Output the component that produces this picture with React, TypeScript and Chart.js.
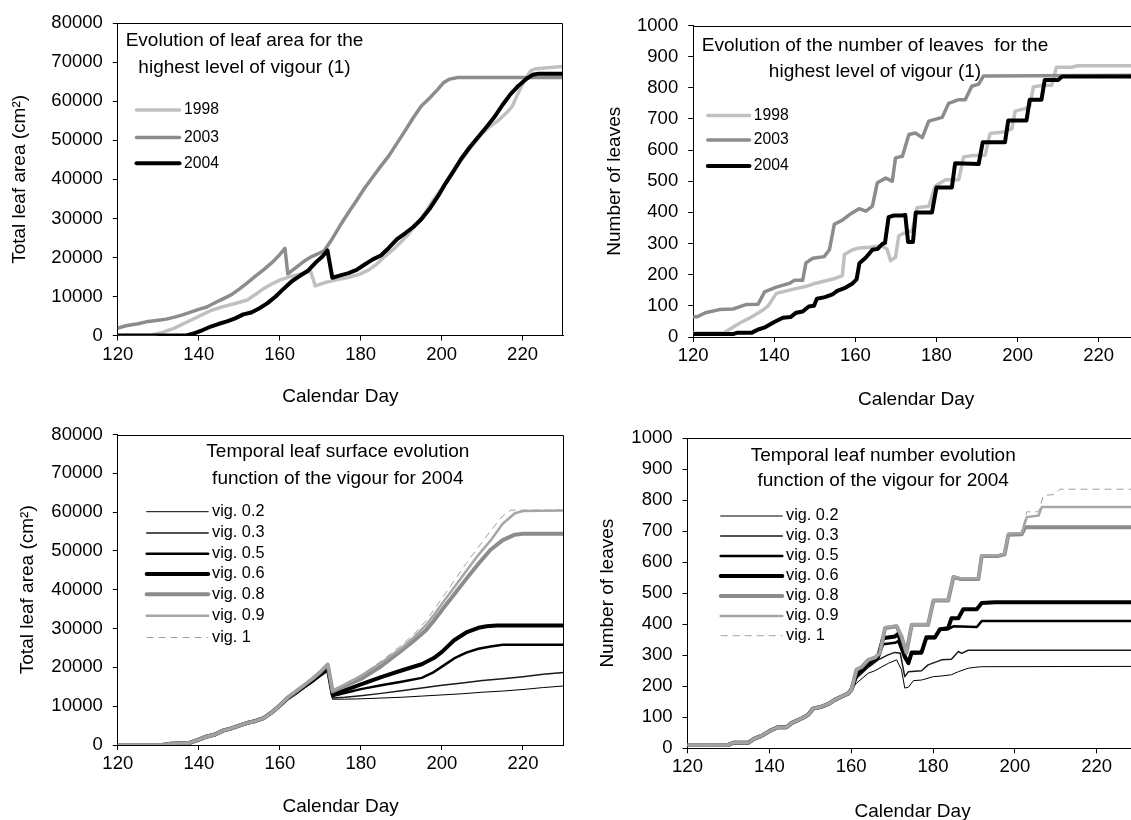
import React, { useEffect, useRef } from 'react';
import { Chart, registerables } from 'chart.js';

Chart.register(...registerables);

const FONT = "'Liberation Sans', Arial, Helvetica, sans-serif";
Chart.defaults.font.family = FONT;
Chart.defaults.color = '#000';

type Pt = [number, number];

// ---------------- data ----------------
const dayTicks = [120, 140, 160, 180, 200, 220];
const areaTicks = [0, 10000, 20000, 30000, 40000, 50000, 60000, 70000, 80000];
const leafTicks = [0, 100, 200, 300, 400, 500, 600, 700, 800, 900, 1000];

const yearLabels = ['1998', '2003', '2004'];
const vigourLabels = ['vig. 0.2', 'vig. 0.3', 'vig. 0.5', 'vig. 0.6', 'vig. 0.8', 'vig. 0.9', 'vig. 1'];

// Panel 1: total leaf area, highest vigour
const leafArea1998: Pt[] = [[120,0],[128,0],[131,800],[134,1900],[137,3400],[140,4900],[143,6400],[146,7400],[149,8200],[152,9100],[154,10500],[156,12000],[158,13200],[160,14200],[163,15200],[165,15700],[167.6,16500],[168.8,12700],[171,13500],[173,14000],[175,14500],[177,14900],[180,15800],[182,16800],[184,18300],[186,20300],[188,22000],[190,24000],[192,26200],[194,28800],[196,31600],[198,34800],[200,37600],[202,40800],[204,43800],[206,46500],[208,49200],[210,51700],[212,53600],[214,55100],[216,57000],[217.5,58800],[219,62300],[220.5,65500],[222,67800],[223,68300],[226,68600],[230,68900]];
const leafArea2003: Pt[] = [[120,1900],[122,2500],[125,3000],[127,3500],[130,3900],[132,4200],[134,4700],[136,5300],[138,6000],[140,6700],[142,7300],[144,8400],[146,9400],[148,10400],[150,11900],[152,13500],[154,15200],[156,16800],[158,18600],[160,20700],[161.3,22300],[162,15800],[164,17400],[166,19000],[168,20300],[170,21200],[171,21700],[173,24800],[175,28300],[177,31500],[179,34600],[181,37800],[183,40600],[185,43400],[187,46100],[189,49300],[191,52500],[193,55800],[195,58800],[197,60800],[199,63000],[200.5,64800],[202,65700],[204,66100],[230,66100]];
const leafArea2004: Pt[] = [[120,0],[137,0],[139,600],[141,1400],[143,2300],[145,3000],[147,3600],[149,4400],[151,5400],[153,5900],[155,7000],[157,8300],[159,10000],[161,12000],[163,13900],[165,15300],[167,16600],[169,18800],[170.5,20200],[171.8,21800],[173,14800],[175,15400],[177,16000],[179,16800],[181,18200],[183,19500],[185,20500],[187,22500],[189,24700],[191,26200],[193,27800],[195,29800],[197,32400],[199,35500],[201,39000],[203,42200],[205,45500],[207,48300],[209,50800],[211,53300],[213,55900],[215,59000],[217,61800],[219,64000],[221,65800],[222.5,66800],[224,67100],[230,67100]];

// Panel 2: number of leaves, highest vigour
const leaves1998: Pt[] = [[120,13],[127.5,13],[129,25],[131.5,45],[133.5,58],[135.5,73],[137,85],[138.5,100],[140.5,140],[143,148],[145.5,156],[148,163],[149.5,170],[152.5,180],[155,188],[156.8,197],[157.3,265],[159.3,280],[161,286],[163.5,288],[166.5,293],[167.8,282],[168.7,245],[169.9,256],[170.7,325],[172.4,336],[174,340],[175.2,415],[178.1,420],[179.7,485],[182.2,505],[185.5,505],[186.7,578],[189.1,583],[192,583],[193.2,653],[196.5,658],[198.6,668],[199.4,725],[201.8,733],[203,740],[203.9,803],[206.3,808],[208.4,808],[209.6,866],[213.3,866],[214.9,871],[230,871]];
const leaves2003: Pt[] = [[120,65],[121,65],[123,78],[126.5,88],[129.8,90],[131,95],[133,104],[136,105],[137.6,145],[140.5,160],[143.7,172],[145,182],[147,182],[147.8,238],[149.5,253],[152.3,258],[153.6,280],[154.8,362],[156.8,375],[158.8,395],[160.9,412],[162.6,404],[164.2,420],[165.4,495],[167.5,510],[169.1,500],[169.9,575],[171.6,580],[173.2,650],[174.8,655],[176.5,640],[178.1,693],[181.4,705],[183,750],[185.5,762],[187.1,762],[188.7,805],[190.4,812],[191.6,838],[230,840]];
const leaves2004: Pt[] = [[120,10],[130,10],[131,14],[134.5,14],[136,24],[137.5,30],[140,48],[142.1,62],[144,64],[145.4,78],[147,82],[148.5,98],[149.8,100],[150.5,123],[152.5,128],[154.5,138],[155.5,148],[157.5,158],[159.3,172],[160.3,185],[161,237],[162.6,255],[164.2,280],[165.5,283],[166.6,298],[167.3,302],[168.2,385],[169.5,390],[171.5,390],[172.3,392],[173,305],[174.2,305],[174.9,400],[178.9,400],[180,480],[183.8,480],[184.6,558],[190.4,555],[191.4,625],[196.9,625],[197.7,695],[202.2,695],[203,762],[205.9,762],[206.7,825],[210,825],[211,836],[230,836]];

// Panel 3: total leaf area by vigour, 2004 (shared early part, then each series)
const areaVigCommon: Pt[] = [[120,0],[131,0],[133,350],[137.5,500],[139.5,1200],[142,2200],[144,2700],[146,3700],[148,4300],[150,5000],[152,5700],[154,6200],[156,6900],[158,8400],[160,10200]];
const areaVig02: Pt[] = [[162,11800],[164,13200],[166,14600],[168,16000],[170,17600],[171.8,18900],[173,11800],[176,11800],[180,11900],[185,12100],[190,12300],[195,12600],[200,12900],[205,13200],[210,13600],[215,13900],[220,14300],[225,14800],[230,15200]];
const areaVig03: Pt[] = [[162,11900],[164,13300],[166,14800],[168,16200],[170,17800],[171.8,19200],[173,12100],[176,12300],[180,12700],[185,13300],[190,14000],[195,14700],[200,15400],[205,16000],[210,16600],[215,17100],[220,17600],[225,18200],[230,18700]];
const areaVig05: Pt[] = [[162,12000],[164,13400],[166,15000],[168,16400],[170,18000],[171.8,19600],[173,12600],[176,13400],[180,14400],[185,15400],[190,16300],[195,17300],[198,18800],[200,20200],[203,22300],[206,23800],[209,24800],[212,25400],[215,25800],[230,25800]];
const areaVig06: Pt[] = [[162,12100],[164,13500],[166,15100],[168,16600],[170,18300],[171.8,19900],[173,13000],[176,14100],[180,15600],[185,17500],[190,19200],[195,20800],[198,22400],[200,24000],[203,27000],[206,29000],[209,30200],[211,30600],[213.5,30800],[230,30800]];
const areaVig08: Pt[] = [[162,12300],[164,13800],[166,15400],[168,17000],[170,18800],[171.8,20700],[173,13800],[176,15200],[180,17000],[185,20300],[190,24300],[193,26800],[196,29500],[198,32000],[200,34800],[203,38800],[206,42800],[209,46700],[212,50300],[215,52800],[218,54200],[220,54400],[230,54400]];
const areaVig09: Pt[] = [[162,12300],[164,13900],[166,15500],[168,17100],[170,18900],[171.8,20800],[173,14000],[176,15600],[180,17800],[185,21200],[190,25000],[193,27700],[196,30800],[198,33500],[200,36400],[203,40600],[206,44800],[209,49000],[212,52700],[215,57000],[218,59700],[220,60300],[230,60400]];
const areaVig10: Pt[] = [[162,12300],[164,13900],[166,15500],[168,17100],[170,19000],[171.8,20900],[173,14100],[176,15700],[180,18000],[185,21600],[190,25700],[193,28500],[196,31900],[198,34800],[200,37800],[203,42300],[206,46800],[209,51000],[212,55200],[215,59000],[217,60500],[230,60500]];

// Panel 4: number of leaves by vigour, 2004
const leavesVigCommon: Pt[] = [[120,11],[130,11],[131.2,18],[134.8,18],[136.5,32],[138.1,40],[140.5,59],[142.2,68],[144.2,68],[145.4,81],[148,97],[149.5,108],[150.7,128],[152.8,134],[154.4,143],[156,156],[157.7,167],[159.3,177],[160.1,190]];
const leavesVig02: Pt[] = [[161.3,210],[164.2,242],[165.8,250],[169.1,274],[171.1,285],[172.3,253],[173.1,194],[174,197],[175.2,218],[177.2,220],[180.1,231],[182.1,233],[184.5,237],[186.2,247],[188.6,258],[190.3,261],[191.9,263],[230,264]];
const leavesVig03: Pt[] = [[161.3,226],[164.2,261],[166.6,285],[169,301],[170.7,309],[172,306],[173.1,231],[174,247],[177.2,250],[178.8,269],[182.1,285],[184.5,287],[186.2,312],[187,306],[188.6,316],[230,316]];
const leavesVig05: Pt[] = [[161.3,230],[162.5,246],[164.2,268],[166.6,290],[167.8,335],[170.7,340],[171.5,345],[173.1,290],[174,272],[174.8,305],[177.2,306],[178.4,355],[180.5,355],[181.7,382],[183.7,384],[185,393],[190.7,391],[191.9,410],[230,410]];
const leavesVig06: Pt[] = [[161.3,237],[162.5,253],[164.2,274],[166.6,296],[167.8,355],[170.7,360],[171.5,369],[173.1,296],[174,275],[174.8,309],[177.2,309],[178.4,358],[180.5,358],[181.7,384],[183.7,387],[184.5,419],[186.2,419],[187.4,448],[190.7,448],[191.9,468],[195.1,471],[230,471]];
const leavesVig08: Pt[] = [[161.3,253],[162.5,261],[164.2,285],[165.8,292],[167,306],[168.3,388],[171.1,393],[172.3,360],[173.5,308],[174.8,398],[178.8,398],[180.1,476],[183.7,476],[185,552],[186.6,546],[191.1,546],[191.9,620],[196,620],[197.5,625],[198.4,688],[201.7,690],[202.5,712],[230,712]];
const leavesVig09: Pt[] = [[161.3,254],[162.5,262],[164.2,286],[165.8,293],[167,307],[168.3,390],[171.1,395],[172.3,362],[173.5,310],[174.8,400],[178.8,400],[180.1,478],[183.7,478],[185,554],[186.6,548],[191.1,548],[191.9,622],[196,622],[197.5,627],[198.4,692],[201.7,694],[202.9,745],[205.8,750],[206.6,778],[230,778]];
const leavesVig10: Pt[] = [[161.3,254],[162.5,262],[164.2,286],[165.8,293],[167,307],[168.3,391],[171.1,396],[172.3,363],[173.5,311],[174.8,401],[178.8,401],[180.1,479],[183.7,479],[185,555],[186.6,549],[191.1,549],[191.9,623],[196,623],[197.5,628],[198.4,693],[201.7,695],[202.9,762],[205.8,762],[207,815],[209.8,818],[211,835],[230,835]];

// ---------------- styles ----------------
type SeriesStyle = { color: string; width: number; dash?: number[] };
const yearStyles: SeriesStyle[] = [
  { color: '#c0c0c0', width: 3.5 },
  { color: '#8c8c8c', width: 3.5 },
  { color: '#000000', width: 4 },
];
const vigourStyles: SeriesStyle[] = [
  { color: '#000000', width: 1 },
  { color: '#1a1a1a', width: 1.5 },
  { color: '#000000', width: 2.5 },
  { color: '#000000', width: 4 },
  { color: '#8c8c8c', width: 4 },
  { color: '#a6a6a6', width: 2.5 },
  { color: '#a0a0a0', width: 1, dash: [7, 5] },
];

const TICK_SIZE = 18.5;
const TITLE_SIZE = 19;

function buildDatasets(labels: string[], series: Pt[][], styles: SeriesStyle[]) {
  const n = series.length;
  return series.map((s, i) => ({
    label: labels[i],
    data: s.map(([x, y]) => ({ x, y })),
    borderColor: styles[i].color,
    backgroundColor: styles[i].color,
    borderWidth: styles[i].width,
    borderDash: styles[i].dash,
    borderJoinStyle: 'round',
    borderCapStyle: styles[i].dash ? 'butt' : 'round',
    pointRadius: 0,
    pointHoverRadius: 0,
    tension: 0,
    fill: false,
    order: n - 1 - i,
  }));
}

const decorPlugin = {
  id: 'decor',
  afterDraw(chart: any) {
    const o = chart.options.plugins.decor;
    if (!o) return;
    const { ctx, chartArea: a } = chart;
    ctx.save();
    ctx.strokeStyle = '#000';
    ctx.lineWidth = 1;
    ctx.setLineDash([]);
    ctx.beginPath();
    const top = Math.round(a.top) + 0.5;
    const right = Math.round(a.right) - 0.5;
    ctx.moveTo(a.left, top);
    ctx.lineTo(right, top);
    ctx.lineTo(right, a.bottom);
    ctx.stroke();

    ctx.fillStyle = '#000';
    ctx.font = `${o.titleSize}px ${FONT}`;
    ctx.textAlign = 'center';
    ctx.textBaseline = 'middle';
    o.title.forEach((t: string, i: number) => ctx.fillText(t, o.titleX, o.titleY[i]));

    ctx.font = `${o.legendSize}px ${FONT}`;
    ctx.textAlign = 'left';
    chart.data.datasets.forEach((ds: any, i: number) => {
      const y = o.legendY[i];
      ctx.save();
      ctx.strokeStyle = ds.borderColor;
      ctx.lineWidth = ds.borderWidth;
      ctx.setLineDash(ds.borderDash || []);
      ctx.lineCap = ds.borderDash ? 'butt' : 'round';
      ctx.beginPath();
      ctx.moveTo(o.legendX1, y);
      ctx.lineTo(o.legendX2, y);
      ctx.stroke();
      ctx.restore();
      ctx.fillStyle = '#000';
      ctx.fillText(ds.label, o.legendTextX, y);
    });
    ctx.restore();
  },
};

type PanelCfg = {
  left: number; top: number; w: number; h: number;
  plot: { l: number; r: number; t: number; b: number };
  yMax: number; yTicks: number[]; yTitle: string;
  yTitlePad: number; xTitlePad: number;
  datasets: any[];
  decor: any;
};

function Panel({ cfg }: { cfg: PanelCfg }) {
  const ref = useRef<HTMLCanvasElement>(null);
  useEffect(() => {
    const c = cfg;
    const chart = new Chart(ref.current as HTMLCanvasElement, {
      type: 'line',
      data: { datasets: c.datasets },
      plugins: [decorPlugin],
      options: {
        responsive: false,
        animation: false,
        events: [],
        layout: { padding: { left: 0, top: c.plot.t, right: c.w - c.plot.r, bottom: 0 } },
        plugins: {
          legend: { display: false },
          tooltip: { enabled: false },
          decor: c.decor,
        } as any,
        scales: {
          x: {
            type: 'linear',
            min: 120,
            max: 230,
            afterBuildTicks: (s: any) => { s.ticks = dayTicks.map((v) => ({ value: v })); },
            afterFit: (s: any) => { s.height = c.h - c.plot.b; },
            ticks: { callback: (v: any) => String(v), font: { size: TICK_SIZE }, color: '#000', padding: 3, maxRotation: 0, autoSkip: false },
            grid: { drawOnChartArea: false, drawTicks: true, tickLength: 5, color: '#000', tickColor: '#000', lineWidth: 1 },
            border: { display: true, color: '#000', width: 1 },
            title: { display: true, text: 'Calendar Day', font: { size: TITLE_SIZE }, color: '#000', padding: { top: 0, bottom: c.xTitlePad } },
          },
          y: {
            type: 'linear',
            min: 0,
            max: c.yMax,
            afterBuildTicks: (s: any) => { s.ticks = c.yTicks.map((v) => ({ value: v })); },
            afterFit: (s: any) => { s.width = c.plot.l; },
            ticks: { callback: (v: any) => String(v), font: { size: TICK_SIZE }, color: '#000', padding: 10, autoSkip: false },
            grid: { drawOnChartArea: false, drawTicks: true, tickLength: 5, color: '#000', tickColor: '#000', lineWidth: 1 },
            border: { display: true, color: '#000', width: 1 },
            title: { display: true, text: c.yTitle, font: { size: TITLE_SIZE }, color: '#000', padding: { top: c.yTitlePad, bottom: 0 } },
          },
        },
      } as any,
    });
    return () => chart.destroy();
  }, [cfg]);
  return (
    <div style={{ position: 'absolute', left: cfg.left, top: cfg.top, width: cfg.w, height: cfg.h }}>
      <canvas ref={ref} width={cfg.w} height={cfg.h} style={{ width: cfg.w, height: cfg.h, display: 'block' }} />
    </div>
  );
}

const panels: PanelCfg[] = [
  {
    left: 0, top: 0, w: 570, h: 420,
    plot: { l: 117.8, r: 563, t: 23.3, b: 335.5 },
    yMax: 80000, yTicks: areaTicks, yTitle: 'Total leaf area (cm²)',
    yTitlePad: 8.4, xTitlePad: 11.6,
    datasets: buildDatasets(yearLabels, [leafArea1998, leafArea2003, leafArea2004], yearStyles),
    decor: {
      title: ['Evolution of leaf area for the', 'highest level of vigour (1)'],
      titleX: 244.5, titleY: [40.7, 67.8], titleSize: TITLE_SIZE,
      legendX1: 136.5, legendX2: 179.5, legendTextX: 184, legendY: [110, 137.5, 163.3], legendSize: 15.7,
    },
  },
  {
    left: 575, top: 0, w: 580, h: 420,
    plot: { l: 118.2, r: 564.2, t: 25.5, b: 337 },
    yMax: 1000, yTicks: leafTicks, yTitle: 'Number of leaves',
    yTitlePad: 28.2, xTitlePad: 8.6,
    datasets: buildDatasets(yearLabels, [leaves1998, leaves2003, leaves2004], yearStyles),
    decor: {
      title: ['Evolution of the number of leaves  for the', 'highest level of vigour (1)'],
      titleX: 300, titleY: [45.5, 71.7], titleSize: TITLE_SIZE,
      legendX1: 132.8, legendX2: 174.5, legendTextX: 178.8, legendY: [115.5, 140, 166], legendSize: 15.7,
    },
  },
  {
    left: 0, top: 410, w: 570, h: 410,
    plot: { l: 117.8, r: 563.5, t: 24.5, b: 335 },
    yMax: 80000, yTicks: areaTicks, yTitle: 'Total leaf area (cm²)',
    yTitlePad: 16.7, xTitlePad: 1.9,
    datasets: buildDatasets(
      vigourLabels,
      [areaVig02, areaVig03, areaVig05, areaVig06, areaVig08, areaVig09, areaVig10].map((s) => areaVigCommon.concat(s)),
      vigourStyles,
    ),
    decor: {
      title: ['Temporal leaf surface evolution', 'function of the vigour for 2004'],
      titleX: 337.8, titleY: [41.7, 68.3], titleSize: TITLE_SIZE,
      legendX1: 146.7, legendX2: 208.2, legendTextX: 212, legendY: [101.7, 123, 143.7, 164, 184.2, 205.7, 227.5], legendSize: 16.3,
    },
  },
  {
    left: 570, top: 410, w: 585, h: 420,
    plot: { l: 117.5, r: 567.6, t: 28, b: 338.3 },
    yMax: 1000, yTicks: leafTicks, yTitle: 'Number of leaves',
    yTitlePad: 26, xTitlePad: 6.9,
    datasets: buildDatasets(
      vigourLabels,
      [leavesVig02, leavesVig03, leavesVig05, leavesVig06, leavesVig08, leavesVig09, leavesVig10].map((s) => leavesVigCommon.concat(s)),
      vigourStyles,
    ),
    decor: {
      title: ['Temporal leaf number evolution', 'function of the vigour for 2004'],
      titleX: 313.2, titleY: [46, 70.7], titleSize: TITLE_SIZE,
      legendX1: 150.7, legendX2: 212.3, legendTextX: 216, legendY: [106, 126, 146, 166, 186, 206, 225.7], legendSize: 16.3,
    },
  },
];

export default function App() {
  return (
    <div style={{ position: 'absolute', left: 0, top: 0, width: 1131, height: 820, overflow: 'hidden', background: '#fff' }}>
      {panels.map((p, i) => (
        <Panel key={i} cfg={p} />
      ))}
    </div>
  );
}
